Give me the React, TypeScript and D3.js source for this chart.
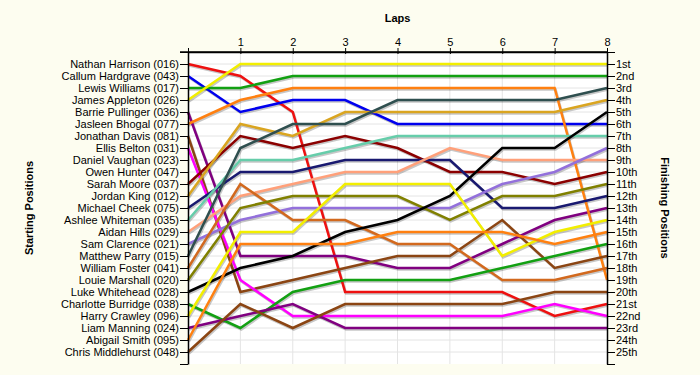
import React, { useEffect, useRef } from 'react';
import * as d3 from 'd3';

// starting grid, top to bottom
const drivers = [
  'Nathan Harrison (016)', 'Callum Hardgrave (043)', 'Lewis Williams (017)', 'James Appleton (026)',
  'Barrie Pullinger (036)', 'Jasleen Bhogal (077)', 'Jonathan Davis (081)', 'Ellis Belton (031)',
  'Daniel Vaughan (023)', 'Owen Hunter (047)', 'Sarah Moore (037)', 'Jordan King (012)',
  'Michael Cheek (075)', 'Ashlee Whiteman (035)', 'Aidan Hills (029)', 'Sam Clarence (021)',
  'Matthew Parry (015)', 'William Foster (041)', 'Louie Marshall (020)', 'Luke Whitehead (028)',
  'Charlotte Burridge (038)', 'Harry Crawley (096)', 'Liam Manning (024)', 'Abigail Smith (095)',
  'Chris Middlehurst (048)',
];

const laps = [0, 1, 2, 3, 4, 5, 6, 7, 8];

const finishLabels = [
  '1st', '2nd', '3rd', '4th', '5th', '6th', '7th', '8th', '9th', '10th', '11th', '12th', '13th',
  '14th', '15th', '16th', '17th', '18th', '19th', '20th', '21st', '22nd', '23rd', '24th', '25th',
];

// position of each driver after each lap (lap 0 = grid)
const positions: { [name: string]: number[] } = {
  'Nathan Harrison (016)': [1, 2, 5, 20, 20, 20, 20, 22, 21],
  'Callum Hardgrave (043)': [2, 5, 4, 4, 6, 6, 6, 6, 6],
  'Lewis Williams (017)': [3, 3, 2, 2, 2, 2, 2, 2, 2],
  'James Appleton (026)': [4, 1, 1, 1, 1, 1, 1, 1, 1],
  'Barrie Pullinger (036)': [5, 17, 17, 17, 18, 18, 16, 14, 13],
  'Jasleen Bhogal (077)': [6, 4, 3, 3, 3, 3, 3, 3, 19],
  'Jonathan Davis (081)': [7, 20, 19, 18, 17, 17, 14, 18, 17],
  'Ellis Belton (031)': [8, 19, 22, 22, 22, 22, 22, 21, 22],
  'Sarah Moore (037)': [11, 7, 8, 7, 8, 10, 10, 11, 10],
  'Jordan King (012)': [12, 6, 7, 5, 5, 5, 5, 5, 4],
  'Michael Cheek (075)': [13, 10, 10, 9, 9, 9, 13, 13, 12],
  'Ashlee Whiteman (035)': [14, 9, 9, 8, 7, 7, 7, 7, 7],
  'Aidan Hills (029)': [15, 12, 11, 10, 10, 8, 9, 9, 9],
  'Sam Clarence (021)': [16, 14, 13, 13, 13, 13, 11, 10, 8],
  'Matthew Parry (015)': [17, 8, 6, 6, 4, 4, 4, 4, 3],
  'William Foster (041)': [18, 11, 14, 14, 16, 16, 19, 19, 18],
  'Louie Marshall (020)': [19, 13, 12, 12, 12, 14, 12, 12, 11],
  'Luke Whitehead (028)': [20, 18, 17, 15, 14, 12, 8, 8, 5],
  'Charlotte Burridge (038)': [21, 23, 20, 19, 19, 19, 18, 17, 16],
  'Harry Crawley (096)': [22, 15, 15, 11, 11, 11, 17, 15, 14],
  'Liam Manning (024)': [23, 22, 21, 23, 23, 23, 23, 23, 23],
  'Abigail Smith (095)': [24, 16, 16, 16, 15, 15, 15, 16, 15],
  'Chris Middlehurst (048)': [25, 21, 23, 21, 21, 21, 21, 20, 20],
};

const colors: { [name: string]: string } = {
  'Nathan Harrison (016)': '#ee1010',
  'Callum Hardgrave (043)': '#0000ee',
  'Lewis Williams (017)': '#12a012',
  'James Appleton (026)': '#f2ee00',
  'Barrie Pullinger (036)': '#800080',
  'Jasleen Bhogal (077)': '#ff8010',
  'Jonathan Davis (081)': '#8b4513',
  'Ellis Belton (031)': '#ff00ff',
  'Sarah Moore (037)': '#8b0000',
  'Jordan King (012)': '#daa520',
  'Michael Cheek (075)': '#191970',
  'Ashlee Whiteman (035)': '#66cdaa',
  'Aidan Hills (029)': '#ffa07a',
  'Sam Clarence (021)': '#9370db',
  'Matthew Parry (015)': '#2f4f4f',
  'William Foster (041)': '#d2691e',
  'Louie Marshall (020)': '#808000',
  'Luke Whitehead (028)': '#000000',
  'Charlotte Burridge (038)': '#12a012',
  'Harry Crawley (096)': '#f2ee00',
  'Liam Manning (024)': '#800080',
  'Abigail Smith (095)': '#ff8010',
  'Chris Middlehurst (048)': '#8b4513',
};

const App = () => {
  const ref = useRef<SVGSVGElement>(null);

  useEffect(() => {
    const width = 700;
    const height = 375;
    const margin = { top: 52, right: 93, bottom: 11, left: 188 };
    const font = '"Liberation Sans", Arial, sans-serif';

    const svg = d3.select(ref.current);
    svg.selectAll('*').remove();

    svg.append('rect').attr('width', width).attr('height', height).attr('fill', '#fdfdf0');

    const x = d3.scaleLinear().domain([0, 8]).range([margin.left, width - margin.right]);
    const y = d3.scaleLinear().domain([0, 26]).range([margin.top, height - margin.bottom]);

    // plot area
    svg.append('rect')
      .attr('x', x(0)).attr('y', y(0))
      .attr('width', x(8) - x(0)).attr('height', y(26) - y(0))
      .attr('fill', '#ffffff');

    // grid
    svg.append('g').selectAll('line')
      .data(d3.range(1, 26))
      .enter().append('line')
      .attr('x1', x(0)).attr('x2', x(8))
      .attr('y1', d => y(d)).attr('y2', d => y(d))
      .attr('stroke', '#e4e4e4');

    svg.append('g').selectAll('line')
      .data(laps.slice(1, 8))
      .enter().append('line')
      .attr('x1', d => x(d)).attr('x2', d => x(d))
      .attr('y1', y(0)).attr('y2', y(26))
      .attr('stroke', '#e4e4e4');

    const line = d3.line<number>()
      .x((d, i) => x(laps[i]))
      .y(d => y(d));

    const names = Object.keys(positions);

    // shadows first
    svg.append('g')
      .attr('transform', 'translate(1,1.5)')
      .selectAll('path')
      .data(names)
      .enter().append('path')
      .attr('d', d => line(positions[d]))
      .attr('fill', 'none')
      .attr('stroke', '#000')
      .attr('stroke-opacity', 0.22)
      .attr('stroke-width', 2.5);

    svg.append('g')
      .selectAll('path')
      .data(names)
      .enter().append('path')
      .attr('d', d => line(positions[d]))
      .attr('fill', 'none')
      .attr('stroke', d => colors[d])
      .attr('stroke-width', 2.5)
      .attr('stroke-linejoin', 'miter');

    // left axis
    const left = svg.append('g')
      .attr('transform', 'translate(' + x(0) + ',0)')
      .call(d3.axisLeft(y)
        .tickValues(d3.range(0, 27))
        .tickSize(8)
        .tickSizeOuter(0)
        .tickFormat(d => (+d >= 1 && +d <= 25 ? drivers[+d - 1] : '')));

    // right axis
    const right = svg.append('g')
      .attr('transform', 'translate(' + x(8) + ',0)')
      .call(d3.axisRight(y)
        .tickValues(d3.range(0, 27))
        .tickSize(8)
        .tickSizeOuter(0)
        .tickFormat(d => (+d >= 1 && +d <= 25 ? finishLabels[+d - 1] : '')));

    // top axis
    const top = svg.append('g')
      .attr('transform', 'translate(0,' + y(0) + ')')
      .call(d3.axisTop(x)
        .tickValues(laps)
        .tickSize(4)
        .tickSizeOuter(0)
        .tickFormat(d => (+d === 0 ? '' : String(d))));

    [left, right, top].forEach(g => {
      g.selectAll('text')
        .attr('font-family', font)
        .attr('font-size', 11)
        .attr('fill', '#000');
      g.selectAll('line').attr('stroke', '#000');
      g.select('.domain').attr('stroke', '#000').attr('stroke-width', 1.5);
    });
    left.selectAll('text').attr('x', -9);
    right.selectAll('text').attr('x', 9);
    top.selectAll('text').attr('y', -6);
    top.selectAll('line').attr('y2', -4).attr('y1', 2);
    // top line reaches the left tick
    svg.append('line')
      .attr('x1', x(0) - 8).attr('x2', x(8))
      .attr('y1', y(0)).attr('y2', y(0))
      .attr('stroke', '#000').attr('stroke-width', 1.5);

    // titles
    svg.append('text')
      .attr('x', x(4)).attr('y', 22)
      .attr('text-anchor', 'middle')
      .attr('font-family', font).attr('font-weight', 'bold').attr('font-size', 11)
      .text('Laps');

    svg.append('text')
      .attr('transform', 'translate(33,' + y(13) + ') rotate(-90)')
      .attr('text-anchor', 'middle')
      .attr('font-family', font).attr('font-weight', 'bold').attr('font-size', 11)
      .text('Starting Positions');

    svg.append('text')
      .attr('transform', 'translate(661,' + y(13) + ') rotate(90)')
      .attr('text-anchor', 'middle')
      .attr('font-family', font).attr('font-weight', 'bold').attr('font-size', 11)
      .text('Finishing Positions');
  }, []);

  return (
    <svg
      ref={ref}
      width={700}
      height={375}
      style={{ position: 'absolute', left: 0, top: 0, display: 'block' }}
    />
  );
};

export default App;
